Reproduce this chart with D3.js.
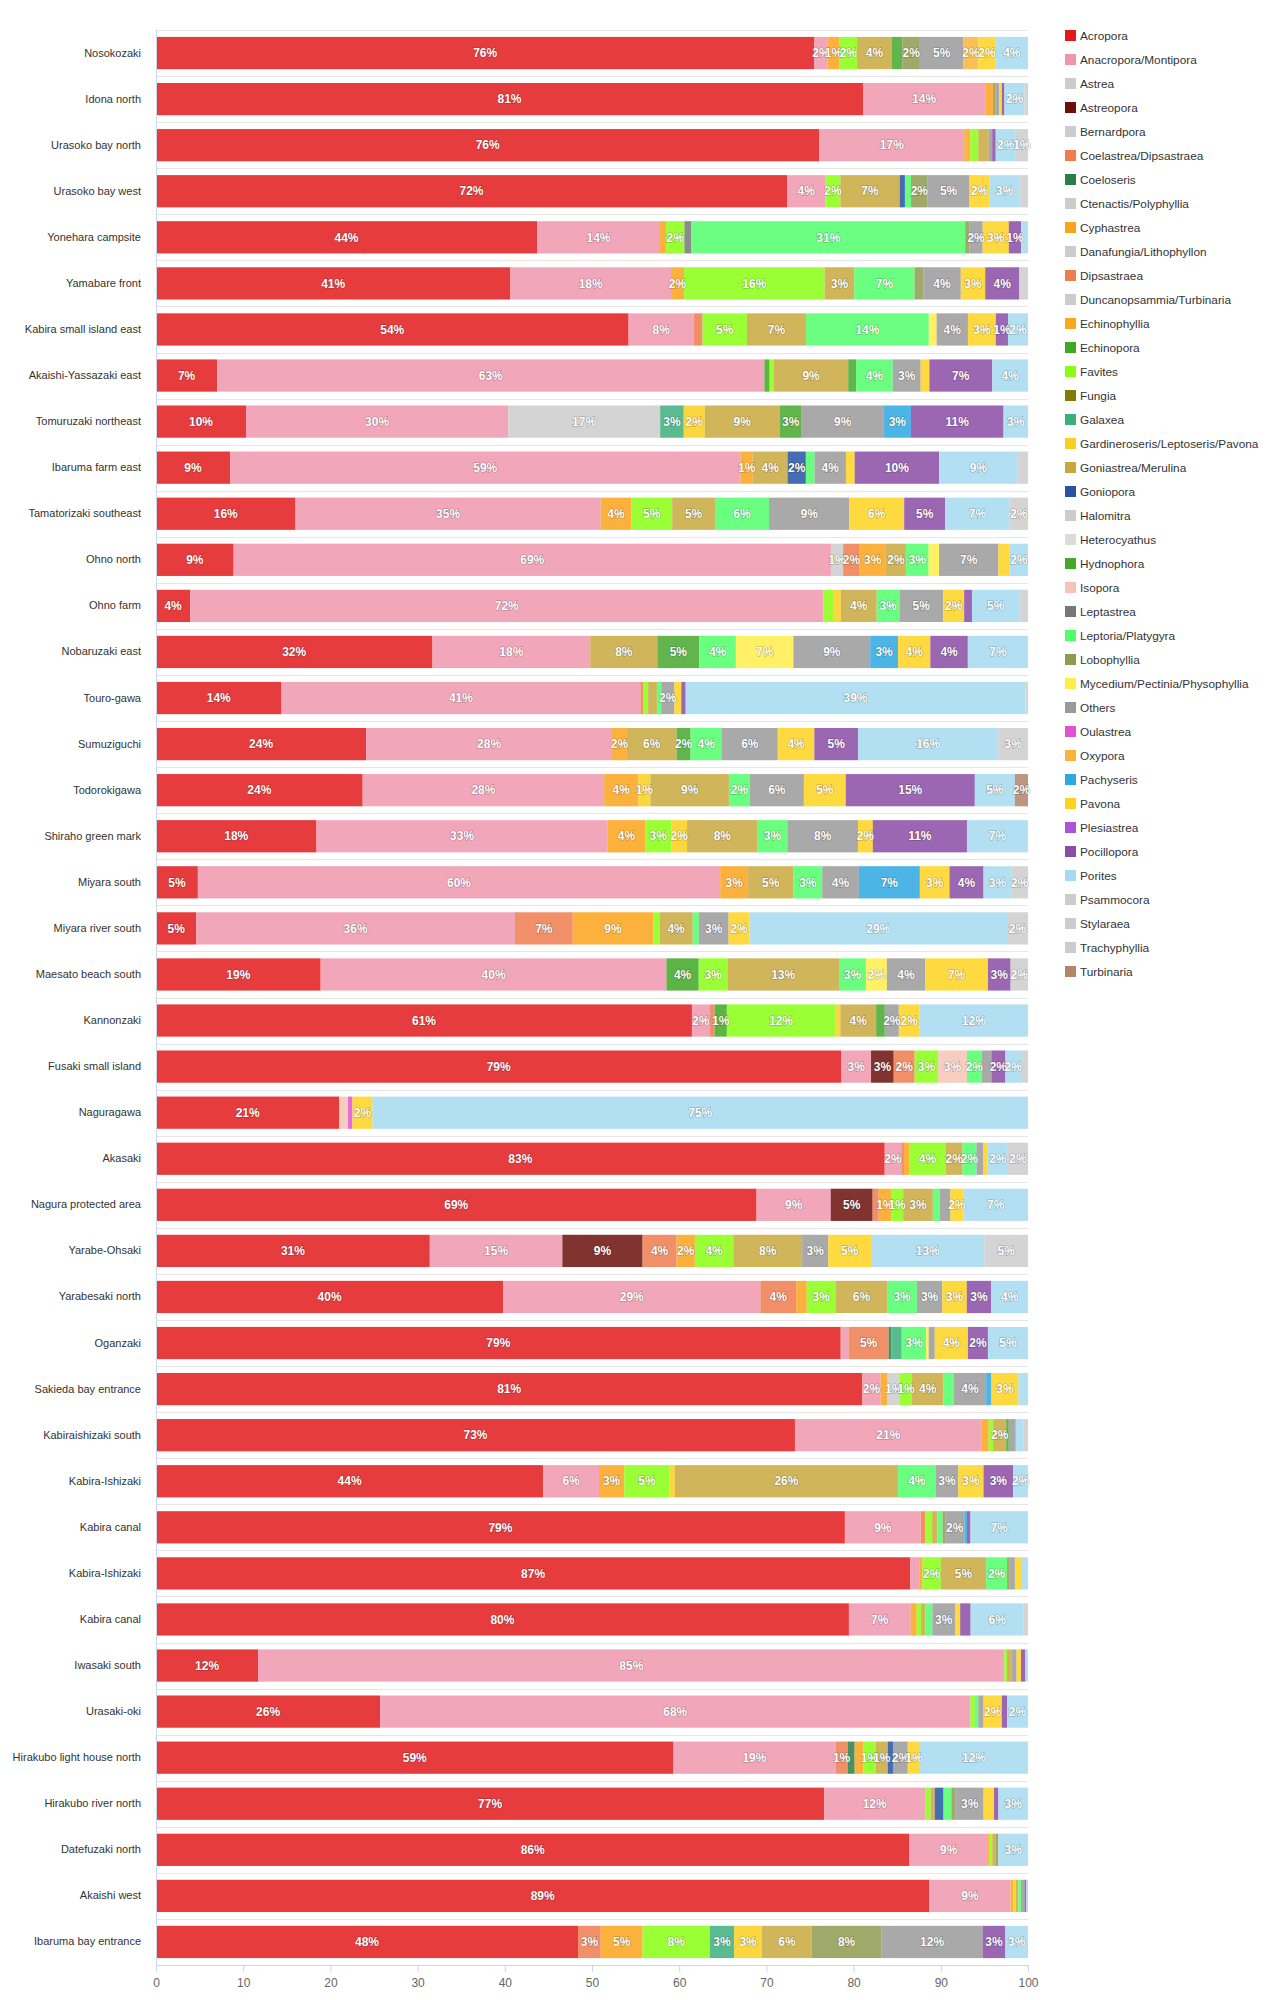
<!DOCTYPE html>
<html>
<head>
<meta charset="utf-8">
<script src="https://cdn.jsdelivr.net/npm/d3@7"></script>
<style>
  body { margin: 0; background: #fff; font-family: "Liberation Sans", Arial, sans-serif; }
</style>
</head>
<body>
<div class="canvas"></div>
<script>
// sites, top to bottom
const sites = [
    'Nosokozaki', 'Idona north', 'Urasoko bay north', 'Urasoko bay west', 'Yonehara campsite',
    'Yamabare front', 'Kabira small island east', 'Akaishi-Yassazaki east', 'Tomuruzaki northeast',
    'Ibaruma farm east', 'Tamatorizaki southeast', 'Ohno north', 'Ohno farm', 'Nobaruzaki east',
    'Touro-gawa', 'Sumuziguchi', 'Todorokigawa', 'Shiraho green mark', 'Miyara south',
    'Miyara river south', 'Maesato beach south', 'Kannonzaki', 'Fusaki small island', 'Naguragawa',
    'Akasaki', 'Nagura protected area', 'Yarabe-Ohsaki', 'Yarabesaki north', 'Oganzaki',
    'Sakieda bay entrance', 'Kabiraishizaki south', 'Kabira-Ishizaki', 'Kabira canal',
    'Kabira-Ishizaki', 'Kabira canal', 'Iwasaki south', 'Urasaki-oki', 'Hirakubo light house north',
    'Hirakubo river north', 'Datefuzaki north', 'Akaishi west', 'Ibaruma bay entrance'
];

// genera (legend / stack order)
const genera = [
    'Acropora', 'Anacropora/Montipora', 'Astrea', 'Astreopora', 'Bernardpora',
    'Coelastrea/Dipsastraea', 'Coeloseris', 'Ctenactis/Polyphyllia', 'Cyphastrea',
    'Danafungia/Lithophyllon', 'Dipsastraea', 'Duncanopsammia/Turbinaria', 'Echinophyllia',
    'Echinopora', 'Favites', 'Fungia', 'Galaxea', 'Gardineroseris/Leptoseris/Pavona',
    'Goniastrea/Merulina', 'Goniopora', 'Halomitra', 'Heterocyathus', 'Hydnophora', 'Isopora',
    'Leptastrea', 'Leptoria/Platygyra', 'Lobophyllia', 'Mycedium/Pectinia/Physophyllia', 'Others',
    'Oulastrea', 'Oxypora', 'Pachyseris', 'Pavona', 'Plesiastrea', 'Pocillopora', 'Porites',
    'Psammocora', 'Stylaraea', 'Trachyphyllia', 'Turbinaria'
];

// short keys used in the share table, same order as genera
const keys = [
    'acr', 'ana', 'ast', 'asp', 'ber', 'coe', 'cos', 'cte', 'cyp', 'dan', 'dip', 'dun', 'ecp',
    'ecn', 'fav', 'fun', 'gal', 'gar', 'gon', 'gop', 'hal', 'het', 'hyd', 'iso', 'lep', 'lpt',
    'lob', 'myc', 'oth', 'oul', 'oxy', 'pac', 'pav', 'ple', 'poc', 'por', 'psa', 'sty', 'tra', 'tur'
];

const colors = [
    '#e31a1c', '#ee96ad', '#cccccc', '#6a0f0a', '#cccccc', '#ee7c4d', '#2a7d45', '#cccccc',
    '#fba31b', '#cccccc', '#ee7c4d', '#cccccc', '#fba71b', '#3ea825', '#88ff10', '#877a04',
    '#3dae7d', '#fccf1c', '#c8a83e', '#2554a4', '#cccccc', '#dcdcd4', '#45a82d', '#f5c4b4',
    '#777777', '#50ff6a', '#8e9a4f', '#ffed4a', '#9a9a9a', '#df52d0', '#f9b43a', '#2ea8e0',
    '#ffd21e', '#ae52d8', '#8a4ca6', '#a5dbf0', '#cccccc', '#cccccc', '#cccccc', '#b38468'
];

// percent cover per site (same order as sites)
const shares = [
    {acr: 75.5, ana: 1.5, cyp: 1.4, fav: 2, gon: 4, hyd: 1.2, lob: 2, oth: 5, oxy: 1.7, pav: 2, por: 3.7},
    {acr: 81, ana: 14, cyp: 0.9, lob: 0.3, oth: 0.4, pav: 0.3, poc: 0.3, por: 2.3, psa: 0.4},
    {acr: 76, ana: 16.6, cyp: 0.3, ecp: 0.4, fav: 0.9, gon: 1.2, oth: 0.4, poc: 0.4, por: 2.3, psa: 1.4},
    {acr: 72.3, ana: 4.4, fav: 1.7, gon: 6.8, gop: 0.6, lpt: 0.7, lob: 1.9, oth: 4.8, pav: 2.3, por: 3.4, psa: 1},
    {acr: 43.7, ana: 14.1, cyp: 0.7, fav: 2.1, lep: 0.8, lpt: 31.4, lob: 0.5, oth: 1.5, pav: 3, poc: 1.4, por: 0.8},
    {acr: 40.6, ana: 18.4, cyp: 1.5, fav: 16.1, gon: 3.4, lpt: 6.9, lob: 1, oth: 4.3, pav: 2.8, poc: 3.9, psa: 1},
    {acr: 54.3, ana: 7.5, coe: 1, fav: 5.1, gon: 6.8, lpt: 14.1, myc: 0.9, oth: 3.6, pav: 3.2, poc: 1.4, por: 2.3},
    {acr: 7, ana: 62.7, ecn: 0.6, fav: 0.5, gon: 8.5, hyd: 0.9, lpt: 4.2, oth: 3.2, pav: 1, poc: 7.2, por: 4.1},
    {acr: 10.3, ana: 30, ast: 17.4, gal: 2.7, gar: 2.4, gon: 8.6, hyd: 2.5, oth: 9.4, pac: 3.1, poc: 10.6, por: 2.8},
    {acr: 8.5, ana: 58.6, cyp: 1.4, gon: 4, gop: 2.1, lpt: 1, oth: 3.6, pav: 1, poc: 9.7, por: 9, psa: 1.2},
    {acr: 16, ana: 35, cyp: 3.5, fav: 4.7, gon: 4.9, lpt: 6.2, oth: 9.2, pav: 6.3, poc: 4.7, por: 7.4, psa: 2.1},
    {acr: 8.9, ana: 68.5, ast: 1.4, coe: 1.9, cyp: 3, gon: 2.3, lpt: 2.6, myc: 1.2, oth: 6.8, pav: 1.3, por: 2.1},
    {acr: 3.9, ana: 72.4, fav: 1.1, gar: 0.9, gon: 4.1, lpt: 2.6, oth: 5, pav: 2.4, poc: 0.9, por: 5.4, psa: 1},
    {acr: 31.7, ana: 18.1, gon: 7.7, hyd: 4.8, lpt: 4.2, myc: 6.6, oth: 8.8, pac: 3.2, pav: 3.7, poc: 4.3, por: 6.9},
    {acr: 14.4, ana: 41.2, coe: 0.3, fav: 0.6, gon: 1, lpt: 0.5, oth: 1.5, pav: 0.8, poc: 0.5, por: 39, psa: 0.3},
    {acr: 24.1, ana: 28.2, cyp: 1.7, gon: 5.7, hyd: 1.6, lpt: 3.6, oth: 6.4, pav: 4.2, poc: 5, por: 16.1, psa: 3.4},
    {acr: 23.7, ana: 27.7, cyp: 3.9, gar: 1.4, gon: 9, lpt: 2.4, oth: 6.2, pav: 4.8, poc: 14.8, por: 4.6, tur: 1.5},
    {acr: 18.4, ana: 33.4, cyp: 4.3, fav: 3, gar: 1.8, gon: 8.1, lpt: 3.4, oth: 8.1, pav: 1.7, poc: 10.8, por: 7},
    {acr: 4.8, ana: 59.9, cyp: 3.2, gon: 5.2, lpt: 3.3, oth: 4.2, pac: 7, pav: 3.4, poc: 3.9, por: 3.2, psa: 1.9},
    {acr: 4.6, ana: 36.4, coe: 6.6, cyp: 9.2, fav: 0.7, gon: 3.8, lpt: 0.7, oth: 3.4, pav: 2.4, por: 29.4, psa: 2.4},
    {acr: 18.9, ana: 39.7, ecn: 3.7, fav: 3.3, gon: 12.8, lpt: 3.1, myc: 2.4, oth: 4.4, pav: 7.2, poc: 2.6, psa: 2},
    {acr: 61.4, ana: 2, coe: 0.6, ecn: 1.4, fav: 12.4, gar: 0.6, gon: 4.1, hyd: 1, oth: 1.6, pav: 2.4, por: 12.4},
    {acr: 78.6, ana: 3.4, asp: 2.6, coe: 2.4, fav: 2.7, iso: 3.3, lpt: 1.7, oth: 1.1, poc: 1.6, por: 1.8, psa: 0.8},
    {acr: 21, iso: 1, oul: 0.5, pav: 2.3, por: 75.1},
    {acr: 83.4, ana: 1.9, coe: 0.3, cyp: 0.6, fav: 4.2, gon: 1.9, lpt: 1.6, oth: 0.8, pav: 0.5, por: 2.3, psa: 2.3},
    {acr: 68.8, ana: 8.5, asp: 4.8, coe: 0.7, cyp: 1.4, fav: 1.4, gon: 3.4, lpt: 0.8, oth: 1.2, pav: 1.5, por: 7.4},
    {acr: 31.4, ana: 15.2, asp: 9.2, coe: 3.9, cyp: 2.1, fav: 4.4, gon: 7.9, oth: 3, pav: 4.9, por: 13, psa: 5},
    {acr: 39.7, ana: 29.4, coe: 4.1, cyp: 1.2, fav: 3.3, gon: 5.9, lpt: 3.4, oth: 2.9, pav: 2.8, poc: 2.8, por: 4.2},
    {acr: 78.6, ana: 0.9, coe: 4.6, cos: 0.3, gal: 1.2, lpt: 2.8, myc: 0.3, oth: 0.7, pav: 3.8, poc: 2.3, por: 4.6},
    {acr: 81, ana: 2.1, cyp: 0.8, dan: 1.4, fav: 1.4, gon: 3.6, lpt: 1.2, oth: 3.7, pac: 0.6, pav: 3.1, por: 1.1},
    {acr: 73.2, ana: 21.4, cyp: 0.8, fav: 0.5, gon: 1.5, hyd: 0.3, oth: 0.8, por: 0.9, psa: 0.5},
    {acr: 44.4, ana: 6.4, cyp: 2.9, fav: 5.2, gar: 0.6, gon: 25.6, lpt: 4.3, oth: 2.6, pav: 2.9, poc: 3.4, por: 1.7},
    {acr: 79, ana: 8.7, coe: 0.5, fav: 0.8, gon: 0.6, lpt: 0.6, lob: 0.3, oth: 2.2, pac: 0.3, poc: 0.4, por: 6.6},
    {acr: 86.5, ana: 1.1, cyp: 0.3, fav: 2.1, gon: 5.2, lpt: 2.4, lob: 0.3, oth: 0.6, pav: 0.7, por: 0.8},
    {acr: 79.7, ana: 7.1, cyp: 0.7, fav: 0.5, gon: 0.5, lpt: 0.8, oth: 2.6, pav: 0.6, poc: 1.2, por: 6.1, psa: 0.5},
    {acr: 11.7, ana: 85.4, fav: 0.3, gon: 0.5, oth: 0.6, pav: 0.5, poc: 0.5, por: 0.3},
    {acr: 25.7, ana: 67.7, fav: 0.5, lpt: 0.4, oth: 0.6, pav: 2.1, poc: 0.6, por: 2.4},
    {acr: 59.4, ana: 18.6, coe: 1.4, cos: 0.8, cyp: 1, fav: 1.4, gon: 1.4, gop: 0.6, oth: 1.7, pav: 1.4, por: 12.4},
    {acr: 76.7, ana: 11.6, fav: 0.6, gon: 0.5, gop: 1, lpt: 0.9, lob: 0.5, oth: 3.2, pav: 1.2, poc: 0.5, por: 3.4},
    {acr: 86.4, ana: 9, cyp: 0.2, fav: 0.3, gon: 0.4, lob: 0.3, por: 3.4},
    {acr: 88.6, ana: 9.3, cyp: 0.3, gar: 0.3, gon: 0.3, lpt: 0.3, oth: 0.4, poc: 0.2, por: 0.2},
    {acr: 48.4, coe: 2.6, cyp: 4.8, fav: 7.7, gal: 2.8, gar: 3.2, gon: 5.7, lob: 8, oth: 11.6, poc: 2.6, por: 2.6}
];

const xTicks = [0, 10, 20, 30, 40, 50, 60, 70, 80, 90, 100];

const width = 1280;
const height = 2000;
const margin = { top: 30, right: 252, bottom: 35, left: 156 };
const graphWidth = width - margin.left - margin.right;
const graphHeight = height - margin.top - margin.bottom;

const svg = d3.select('.canvas')
    .append('svg')
    .attr('width', width)
    .attr('height', height);

const graph = svg.append('g')
    .attr('transform', `translate(${margin.left}, ${margin.top})`);

const color = d3.scaleOrdinal().domain(keys).range(colors);

const x = d3.scaleLinear()
    .domain([0, 1])
    .range([0, graphWidth]);

const y = d3.scaleBand()
    .domain(d3.range(sites.length))
    .range([0, graphHeight])
    .paddingInner(0.3)
    .paddingOuter(0.15);

// category separators
const step = y.step();
graph.append('g')
    .selectAll('line')
    .data(d3.range(sites.length + 1))
    .enter()
    .append('line')
    .attr('x1', 0)
    .attr('x2', graphWidth)
    .attr('y1', i => Math.round(i * step) + 0.5)
    .attr('y2', i => Math.round(i * step) + 0.5)
    .attr('stroke', '#e6e6e6');

// stacked, normalised to 100%
const stacked = d3.stack()
    .keys(keys)
    .value((d, k) => d[k] || 0)
    .offset(d3.stackOffsetExpand)(shares);

const layers = graph.append('g')
    .selectAll('g')
    .data(stacked)
    .enter()
    .append('g')
    .attr('fill', d => color(d.key));

layers.selectAll('rect')
    .data(d => d.map((p, i) => ({ p, i, key: d.key })).filter(d => d.p[1] > d.p[0]))
    .enter()
    .append('rect')
    .attr('x', d => x(d.p[0]))
    .attr('y', d => y(d.i))
    .attr('width', d => x(d.p[1]) - x(d.p[0]))
    .attr('height', y.bandwidth())
    .attr('fill-opacity', 0.85);

// data labels
const labels = [];
stacked.forEach(layer => {
    layer.forEach((p, i) => {
        const v = p.data[layer.key] || 0;
        if (v >= 1.35) labels.push({ x: (x(p[0]) + x(p[1])) / 2, y: y(i) + y.bandwidth() / 2, v });
    });
});

graph.append('g')
    .selectAll('text')
    .data(labels)
    .enter()
    .append('text')
    .attr('x', d => d.x)
    .attr('y', d => d.y)
    .attr('dy', '0.35em')
    .attr('text-anchor', 'middle')
    .attr('font-size', 12)
    .attr('font-weight', 'bold')
    .attr('fill', '#fff')
    .attr('stroke', 'rgba(0,0,0,0.3)')
    .attr('stroke-width', 1.2)
    .attr('paint-order', 'stroke')
    .text(d => Math.round(d.v) + '%');

// axes
const xAxis = d3.axisBottom(x)
    .tickValues(xTicks.map(t => t / 100))
    .tickFormat(d => Math.round(d * 100))
    .tickSize(7)
    .tickSizeOuter(0)
    .tickPadding(6);

const xAxisGroup = graph.append('g')
    .attr('transform', `translate(0, ${graphHeight})`)
    .call(xAxis);

xAxisGroup.select('.domain').attr('stroke', '#ccd6eb');
xAxisGroup.selectAll('.tick line').attr('stroke', '#ccd6eb');
xAxisGroup.selectAll('text')
    .attr('font-size', 12)
    .attr('fill', '#666')
    .attr('font-family', '"Liberation Sans", Arial, sans-serif');

const yAxis = d3.axisLeft(y)
    .tickFormat(i => sites[i])
    .tickSize(0)
    .tickPadding(15);

const yAxisGroup = graph.append('g').call(yAxis);

yAxisGroup.select('.domain').attr('stroke', '#ccd6eb');
yAxisGroup.selectAll('text')
    .attr('font-size', 11)
    .attr('fill', '#333')
    .attr('font-family', '"Liberation Sans", Arial, sans-serif');

// legend
const legend = svg.append('g')
    .attr('transform', 'translate(1065, 30)');

const items = legend.selectAll('g')
    .data(genera)
    .enter()
    .append('g')
    .attr('transform', (d, i) => `translate(0, ${i * 24})`);

items.append('rect')
    .attr('width', 11)
    .attr('height', 11)
    .attr('fill', (d, i) => colors[i]);

items.append('text')
    .attr('x', 15)
    .attr('y', 6)
    .attr('dy', '0.35em')
    .attr('font-size', 11.8)
    .attr('fill', '#333')
    .text(d => d);
</script>
</body>
</html>
